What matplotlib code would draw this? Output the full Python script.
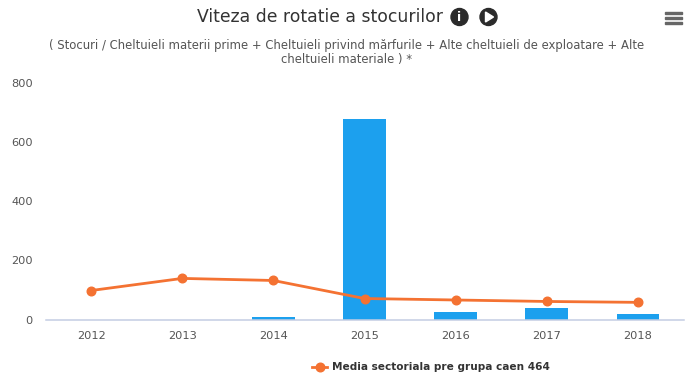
import matplotlib
matplotlib.use("Agg")
import matplotlib.pyplot as plt
from matplotlib.patches import Circle, Polygon, Rectangle

W = 690
H = 392

ani = ["2012", "2013", "2014", "2015", "2016", "2017", "2018"]
stocuri = [0, 0, 10, 678, 24, 38, 18]
media = [98, 139, 132, 71, 66, 61, 58]
y_ticks = [0, 200, 400, 600, 800]

TITLU = "Viteza de rotatie a stocurilor"
SUBTITLU = ("( Stocuri / Cheltuieli materii prime + Cheltuieli privind mărfurile + Alte cheltuieli de exploatare + Alte\n"
            "cheltuieli materiale ) *")
LEGENDA = "Media sectoriala pre grupa caen 464"

fig = plt.figure(figsize=(W / 100, H / 100), dpi=100)
ax = fig.add_axes([45.5 / W, 1 - 319.5 / H, 638 / W, 236.5 / H])

x = range(len(ani))
ax.bar(x, stocuri, width=0.47, color="#1ca0ee", zorder=2)
ax.plot(x, media, color="#f47232", lw=2, marker="o", ms=6.2, zorder=3)

ax.set_xlim(-0.5, 6.5)
ax.set_ylim(0, 800)
ax.set_xticks(list(x), ani)
ax.set_yticks(y_ticks)
ax.tick_params(axis="both", length=0, labelsize=8.2, labelcolor="#555555")
ax.tick_params(axis="x", pad=8)
ax.tick_params(axis="y", pad=9)
for s in ["top", "right", "left"]:
    ax.spines[s].set_visible(False)
ax.spines["bottom"].set_color("#c4cde3")
ax.spines["bottom"].set_linewidth(1.1)

# text sus
fig.text(320 / W, 1 - 17 / H, TITLU, ha="center", va="center", fontsize=12.4, color="#333333")
fig.text(347 / W, 1 - 52.5 / H, SUBTITLU, ha="center", va="center", fontsize=8.4, color="#555555",
         linespacing=1.15, multialignment="center")

# overlay in pixeli pentru iconite si legenda
ov = fig.add_axes([0, 0, 1, 1])
ov.set_xlim(0, W)
ov.set_ylim(H, 0)
ov.axis("off")
ov.patch.set_alpha(0)

ov.add_patch(Circle((459.5, 17), 8.5, color="#2b2b2b"))
ov.text(459.5, 17, "i", ha="center", va="center", fontsize=9, fontweight="bold", color="white")
ov.add_patch(Circle((488.5, 17), 8.5, color="#2b2b2b"))
ov.add_patch(Polygon([(485.5, 12), (485.5, 22), (493.5, 17)], color="white"))

# meniu
for y in [13, 18, 23]:
    ov.add_patch(Rectangle((664.5, y - 1), 17, 2.4, color="#666666"))

ov.plot([312, 327], [367, 367], color="#f47232", lw=2)
ov.plot([319.5], [367], color="#f47232", marker="o", ms=6.2)
ov.text(332.5, 367, LEGENDA, ha="left", va="center", fontsize=7.6, fontweight="bold", color="#333333")

fig.savefig("out.png", dpi=100)
